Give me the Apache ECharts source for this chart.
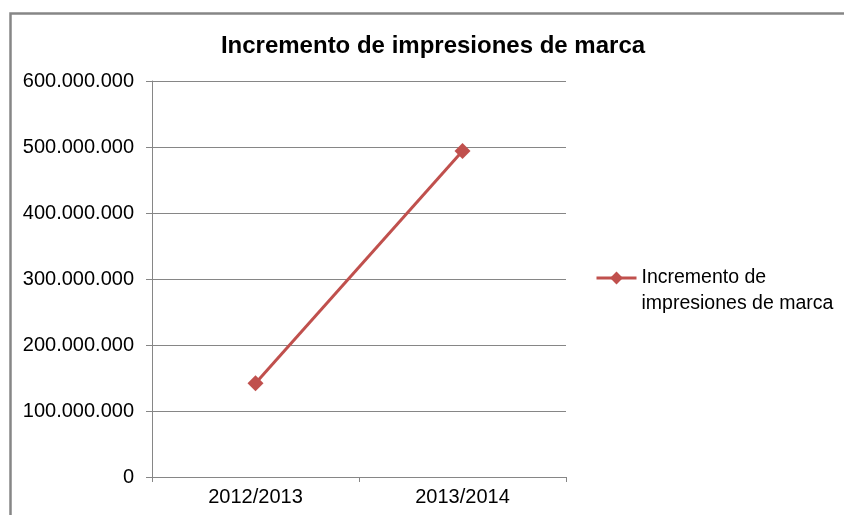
<!DOCTYPE html>
<html>
<head>
<meta charset="utf-8">
<script src="https://cdn.jsdelivr.net/npm/echarts@6/dist/echarts.min.js"></script>
<style>
  html, body { margin: 0; padding: 0; background: #fff; }
  #chart { width: 844px; height: 515px; }
</style>
</head>
<body>
<div id="chart"></div>
<script>
const categories = ['2012/2013', '2013/2014']
const values = [142000000, 494000000]
const seriesName = 'Incremento de impresiones de marca'

// thousands with dots, like the Spanish Excel chart
const fmt = v => String(v).replace(/\B(?=(\d{3})+(?!\d))/g, '.')

const chart = echarts.init(document.getElementById('chart'))
chart.setOption({
  animation: false,
  textStyle: { fontFamily: 'Liberation Sans, Arial, sans-serif' },
  title: {
    text: 'Incremento de impresiones de marca',
    left: 428, top: 29, textAlign: 'center',
    textStyle: { fontSize: 24, fontWeight: 'bold', color: '#000' }
  },
  graphic: [{
    type: 'rect',
    shape: { x: 10.5, y: 13.5, width: 840, height: 520 },
    style: { fill: 'none', stroke: '#868686', lineWidth: 2.5 },
    silent: true
  }],
  legend: {
    left: 595, top: 239, padding: 0,
    itemWidth: 40, itemHeight: 16, itemGap: 0,
    lineStyle: { width: 3 },
    // empty first line keeps the marker level with the first text line
    formatter: () => ' \nIncremento de\nimpresiones de marca',
    textStyle: { fontSize: 19.5, color: '#000', lineHeight: 26 }
  },
  grid: { left: 152, right: 278, top: 81, bottom: 38, outerBoundsMode: 'none' },
  xAxis: {
    type: 'category',
    data: categories,
    boundaryGap: true,
    axisLine: { lineStyle: { color: '#868686', width: 1 } },
    axisTick: { show: true, length: 5, interval: 0, lineStyle: { color: '#868686' } },
    axisLabel: { fontSize: 20, color: '#000', margin: 10 }
  },
  yAxis: {
    type: 'value',
    min: 0, max: 600000000, interval: 100000000,
    axisLine: { show: true, lineStyle: { color: '#868686', width: 1 } },
    axisTick: { show: true, length: 6, lineStyle: { color: '#868686' } },
    axisLabel: { fontSize: 20, color: '#000', margin: 18, formatter: fmt },
    splitLine: { lineStyle: { color: '#868686', width: 1 } }
  },
  series: [{
    name: seriesName,
    type: 'line',
    data: values,
    symbol: 'diamond',
    symbolSize: 16,
    lineStyle: { color: '#C0504D', width: 3 },
    itemStyle: { color: '#C0504D' }
  }]
})
</script>
</body>
</html>
